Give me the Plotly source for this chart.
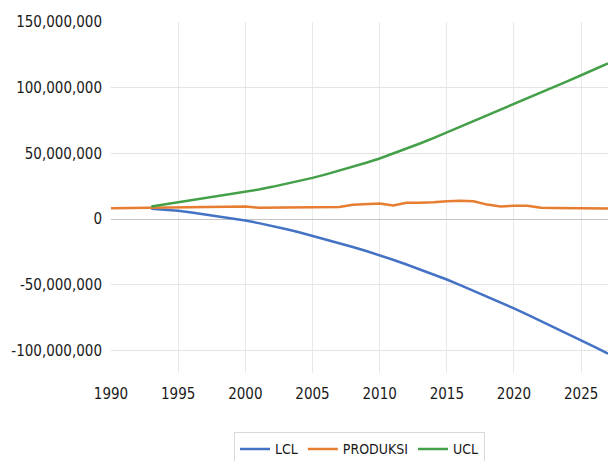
import plotly.graph_objects as go

# Years on the horizontal axis
years_prod = list(range(1990, 2028))
years_limits = list(range(1993, 2028))

# Production series (units)
produksi = [
    8.3, 8.4, 8.5, 8.7, 8.8, 8.9, 9.0, 9.1, 9.2, 9.4,
    9.7, 8.7, 8.8, 8.9, 9.0, 9.0, 9.1, 9.3, 10.9, 11.5,
    11.9, 10.5, 12.5, 12.6, 12.8, 13.6, 14.1, 13.6, 11.1, 9.7,
    10.3, 10.3, 8.7, 8.6, 8.5, 8.3, 8.2, 8.1,
]
produksi = [v * 1e6 for v in produksi]

# Upper control limit
ucl = [
    9.6, 11.2, 12.9, 14.3, 15.8, 17.3, 18.9, 20.6, 22.6, 24.6,
    26.7, 29.0, 31.4, 34.1, 36.9, 39.8, 42.9, 46.2, 49.9, 53.7,
    57.6, 61.7, 66.0, 70.2, 74.4, 78.6, 82.9, 87.2, 91.6, 96.0,
    100.5, 105.0, 109.5, 114.0, 118.5,
]
ucl = [v * 1e6 for v in ucl]

# Lower control limit
lcl = [
    7.9, 7.2, 6.4, 5.1, 3.6, 2.1, 0.6, -1.0, -3.0, -5.1,
    -7.4, -9.9, -12.6, -15.4, -18.2, -21.1, -24.2, -27.4, -30.9, -34.5,
    -38.1, -41.9, -45.9, -50.1, -54.4, -58.8, -63.3, -67.9, -72.6, -77.4,
    -82.2, -87.1, -92.0, -97.1, -102.3,
]
lcl = [v * 1e6 for v in lcl]

# Value-axis ticks and their labels
y_tickvals = [-100e6, -50e6, 0, 50e6, 100e6, 150e6]
y_ticktext = ["-100,000,000", "-50,000,000", "0", "50,000,000", "100,000,000", "150,000,000"]

FONT = "DejaVu Sans Condensed, Liberation Sans Narrow, sans-serif"
TEXT = "#1a1a1a"

fig = go.Figure()
fig.add_trace(go.Scatter(x=years_limits, y=lcl, name="LCL", mode="lines",
                         line=dict(color="#4472C4", width=2.5)))
fig.add_trace(go.Scatter(x=years_prod, y=produksi, name="PRODUKSI", mode="lines",
                         line=dict(color="#E67D31", width=2.5)))
fig.add_trace(go.Scatter(x=years_limits, y=ucl, name="UCL", mode="lines",
                         line=dict(color="#44A048", width=2.5)))

fig.update_layout(
    width=608, height=461,
    margin=dict(l=111, r=0, t=22, b=88),
    paper_bgcolor="white", plot_bgcolor="white",
    font=dict(family=FONT, size=15, color=TEXT),
    showlegend=True,
    legend=dict(orientation="h", x=0.5, xanchor="center",
                yref="container", y=0.062, yanchor="top",
                bordercolor="#d9d9d9", borderwidth=1, font=dict(size=14),
                itemwidth=30, tracegroupgap=0),
    xaxis=dict(range=[1990, 2027], dtick=5, tick0=1990, showgrid=True,
               gridcolor="#e9e9e9", gridwidth=1, zeroline=False, showline=False,
               ticks="", ticklabelstandoff=10, tickfont=dict(size=15),
               automargin=False),
    yaxis=dict(range=[-117e6, 150e6], tickvals=y_tickvals, ticktext=y_ticktext,
               showgrid=True, gridcolor="#e4e4e4", gridwidth=1,
               zeroline=True, zerolinecolor="#c4c4c4", zerolinewidth=1.3,
               showline=False, ticks="", ticklabelstandoff=8,
               tickfont=dict(size=15), automargin=False),
)

fig.write_html("out.html")
